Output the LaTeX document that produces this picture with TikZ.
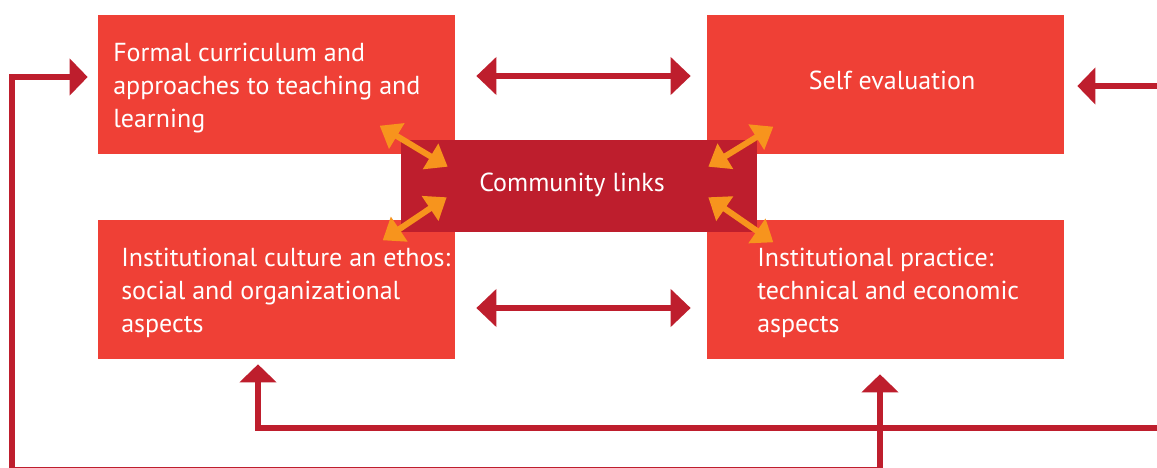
\documentclass[tikz,border=0pt]{standalone}
\usepackage{fontspec}
\setmainfont{PT Sans}
\usetikzlibrary{arrows.meta}
\definecolor{boxred}{HTML}{EF4036}
\definecolor{darkred}{HTML}{BE1E2D}
\definecolor{linkorange}{HTML}{F7941D}

\begin{document}
\begin{tikzpicture}[x=0.025cm, y=-0.025cm,
	area/.style={fill=boxred, minimum width=8.925cm, minimum height=3.475cm, inner sep=0pt},
	label/.style={text=white, font=\fontsize{18.5}{23.5}\selectfont, align=left, inner sep=0pt},
	feedback/.style={darkred, line width=0.14cm, {Triangle[length=0.45cm, width=0.9cm]}-{Triangle[length=0.45cm, width=0.9cm]}},
	twoway/.style={darkred, line width=0.14cm, {Triangle[length=0.5cm, width=0.92cm]}-{Triangle[length=0.5cm, width=0.92cm]}},
	orangearrow/.style={linkorange, line width=0.15cm, {Triangle[length=0.5cm, width=0.72cm]}-{Triangle[length=0.5cm, width=0.72cm]}}]
	\clip (0,0) rectangle (1157,467);
	\fill [white] (0,0) rectangle (1157,467);
	\node [area] (formal) at (276.5,84.5) {};
	\node [area] (selfeval) at (885.5,84.5) {};
	\node [area] (culture) at (276.5,289.5) {};
	\node [area] (practice) at (885.5,289.5) {};
	\node [fill=darkred, minimum width=8.9cm, minimum height=2.3cm, inner sep=0pt] (community) at (579,186) {};
	\node [label, anchor=west] (formaltext) at (113,88.5) {Formal curriculum and\\approaches to teaching and\\learning};
	\node [label] (selftext) at (892,80) {Self evaluation};
	\node [label, anchor=west] (culturetext) at (121,292.5) {Institutional culture an ethos:\\social and organizational\\aspects};
	\node [label, anchor=west] (practicetext) at (757,292.5) {Institutional practice:\\technical and economic\\aspects};
	\node [label] (communitytext) at (572,185) {Community links};
	\draw [twoway] ([shift={(21,-8.5)}]formal.east) -- ([shift={(-16,-8.5)}]selfeval.west);
	\draw [twoway] ([shift={(21,18.5)}]culture.east) -- ([shift={(-16,18.5)}]practice.west);
	\draw [orangearrow] ([shift={(-21,-14)}]community.north west) -- ([shift={(47,27)}]community.north west);
	\draw [orangearrow] ([shift={(46,-35)}]community.south west) -- ([shift={(-18,8)}]community.south west);
	\draw [orangearrow] ([shift={(-49,27)}]community.north east) -- ([shift={(16,-13)}]community.north east);
	\draw [orangearrow] ([shift={(-49,-35)}]community.south east) -- ([shift={(16,10)}]community.south east);
	\draw [feedback] ([shift={(-5.5,15)}]practice.south) |- (12,470) |- ([shift={(-10,-7.5)}]formal.west);
	\draw [feedback] ([shift={(13,1.5)}]selfeval.east) -| (1160,428) -| ([shift={(-18.5,5)}]culture.south);
\end{tikzpicture}
\end{document}
